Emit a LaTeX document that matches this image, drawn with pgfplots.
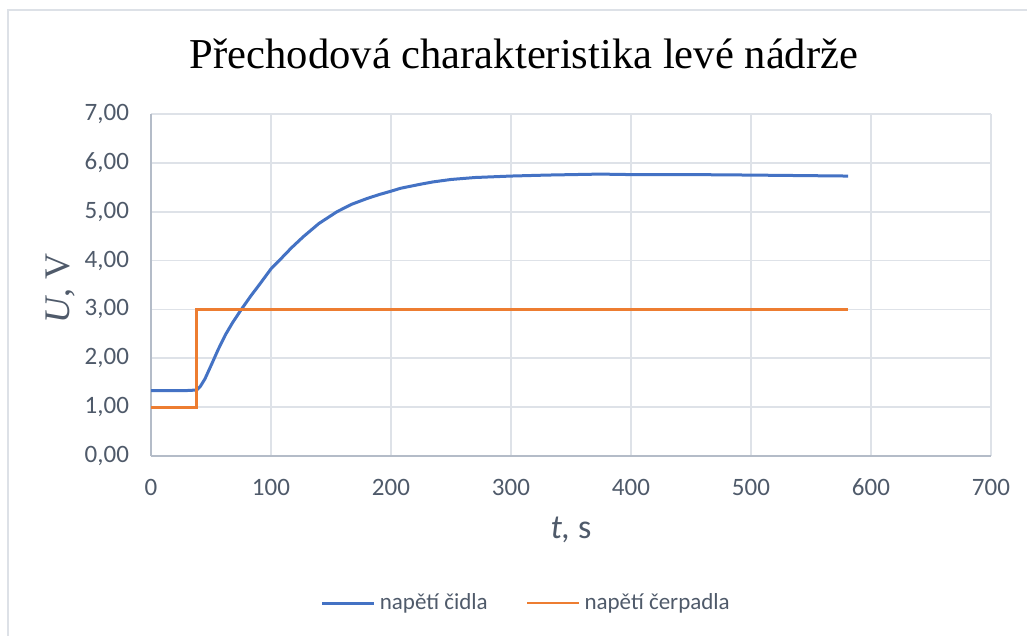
\documentclass[border=0pt]{standalone}
\usepackage{fontspec}
\setmainfont{Carlito}
\newfontfamily\serifT{Liberation Serif}
\usepackage{pgfplots}
\pgfplotsset{compat=1.18}
\definecolor{cblue}{HTML}{4472C4}
\definecolor{corange}{HTML}{ED7D31}
\definecolor{ctext}{HTML}{4F5A6A}
\definecolor{cgrid}{HTML}{DEE2E8}
\definecolor{caxis}{HTML}{B4BCC8}
\definecolor{cframe}{HTML}{DDE1E7}
\begin{document}
\begin{tikzpicture}
\useasboundingbox (0,0) rectangle (513.5pt,318pt);
\fill[white] (0,0) rectangle (513.5pt,318pt);
\draw[cframe, line width=0.8pt] (4pt,0) -- (4pt,313pt) -- (513.5pt,313pt);
\node[anchor=base, font=\serifT\fontsize{21.3}{25}\selectfont] at (262pt,283.5pt) {Přechodová charakteristika levé nádrže};
\begin{axis}[
  at={(75.5pt,90pt)}, anchor=south west,
  scale only axis, width=420pt, height=171pt,
  xmin=0, xmax=700, ymin=0, ymax=7,
  xtick={0,100,...,700}, ytick={0,1,...,7},
  axis x line*=bottom, axis y line*=left,
  axis line style={caxis, line width=0.8pt},
  major tick length=0pt,
  grid=major, major grid style={cgrid, line width=0.8pt},
  /pgf/number format/assume math mode=true,
  yticklabel={\pgfmathprintnumber[fixed, fixed zerofill, precision=2, use comma]{\tick}},
  xticklabel style={font=\fontsize{12.5}{15}\selectfont, text=ctext, yshift=-8pt},
  yticklabel style={font=\fontsize{12.5}{15}\selectfont, text=ctext, xshift=-7.5pt},
  xlabel={\textit{t,} s},
  xlabel style={font=\fontsize{17}{20}\selectfont, text=ctext, at={(axis description cs:0.5,0)}, anchor=center, yshift=-37pt},
  ylabel={\textit{U}, V},
  ylabel style={font=\serifT\fontsize{18}{21}\selectfont, text=ctext, at={(axis description cs:0,0.491)}, anchor=center, yshift=45.5pt},
  legend columns=2,
  legend style={at={(0.448,-0.43)}, anchor=center, draw=none, fill=none, font=\fontsize{11.5}{14}\selectfont, text=ctext,
    /tikz/every even column/.append style={column sep=17pt}},
  legend cell align=left,
  legend image code/.code={\draw[#1] (0pt,0pt) -- (26pt,0pt);},
]
\addplot[cblue, line width=1.5pt] coordinates {
(0,1.34) (10,1.34) (20,1.34) (30,1.34) (38,1.35) (41,1.42) (45,1.58) (50,1.85) (56,2.18) (62,2.48) (68,2.73) (75,2.99) (83,3.27) (91,3.53) (100,3.83) (108,4.03) (117,4.26) (127,4.49) (140,4.76) (155,5.00) (167,5.15) (180,5.27) (190,5.35) (200,5.42) (208,5.48) (224,5.56) (235,5.61) (250,5.66) (270,5.70) (300,5.73) (330,5.75) (374,5.77) (400,5.76) (450,5.76) (500,5.75) (540,5.74) (581,5.73)
};
\addlegendentry{napětí čidla}
\addplot[corange, line width=1.4pt] coordinates {
(0,1) (38,1) (38,3) (581,3)
};
\addlegendentry{napětí čerpadla}
\end{axis}
\end{tikzpicture}
\end{document}
